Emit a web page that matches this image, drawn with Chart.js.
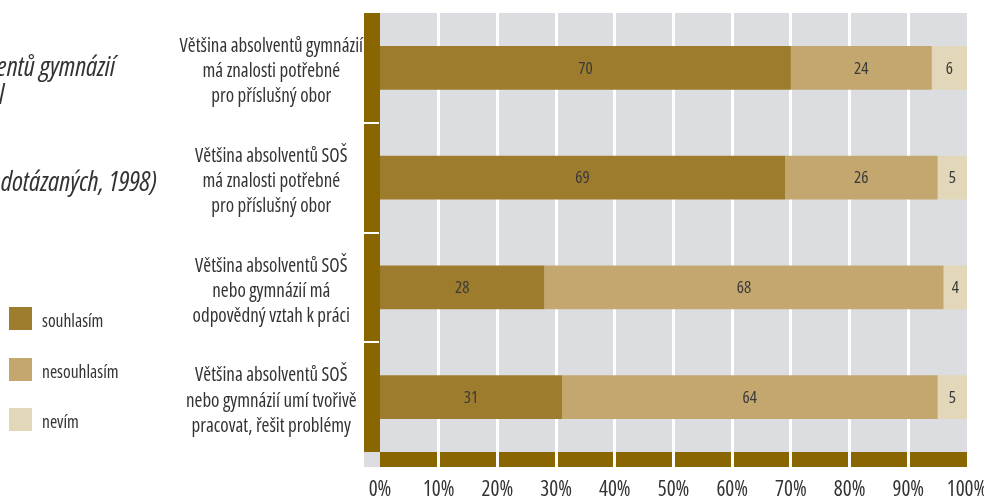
<!DOCTYPE html>
<html lang="cs">
<head>
<meta charset="utf-8">
<script src="https://cdn.jsdelivr.net/npm/chart.js@4/dist/chart.umd.min.js"></script>
<style>
  body { margin: 0; background: #fff; }
  #wrap { position: relative; width: 984px; height: 497px; overflow: hidden; }
  #wrap canvas { position: absolute; left: 0; top: 0; }
  .title { position: absolute; white-space: nowrap; font-family: 'Open Sans', sans-serif; font-stretch: condensed;
    font-style: italic; font-size: 27px; color: #333; line-height: 1; }
  .legend { position: absolute; left: 9px; top: 307px; font-family: 'Open Sans', sans-serif; font-stretch: condensed;
    font-size: 17.5px; color: #333; }
  .legend div { height: 50.5px; position: relative; }
  .legend span.box { position: absolute; left: 0; top: 0; width: 23px; height: 23px; }
  .legend span.txt { position: absolute; left: 33px; top: 2px; line-height: 1.3; }
</style>
</head>
<body>
<div id="wrap">
  <canvas id="myBarChart" width="984" height="497"></canvas>
  <div class="title" style="right:869px; top:52px">Názory na připravenost absolventů gymnázií</div>
  <div class="title" style="right:980px; top:80px">a středních odborných škol</div>
  <div class="title" style="right:827px; top:167px">(v % dotázaných, 1998)</div>
  <div class="legend" id="legend"></div>
</div>
<script>
var categories = [
  ['Většina absolventů gymnázií', 'má znalosti potřebné', 'pro příslušný obor'],
  ['Většina absolventů SOŠ', 'má znalosti potřebné', 'pro příslušný obor'],
  ['Většina absolventů SOŠ', 'nebo gymnázií má', 'odpovědný vztah k práci'],
  ['Většina absolventů SOŠ', 'nebo gymnázií umí tvořivě', 'pracovat, řešit problémy']
]
var seriesNames = ['souhlasím', 'nesouhlasím', 'nevím']
var agree = [70, 69, 28, 31]
var disagree = [24, 26, 68, 64]
var dontKnow = [6, 5, 4, 5]
var xTicks = [0, 10, 20, 30, 40, 50, 60, 70, 80, 90, 100]

var colors = ['#9e7c2e', '#c4a76e', '#e3d7b9']
var axisColor = '#8a6600'
var FONT = "'Open Sans', sans-serif"

// gray panel and dark bottom band under the grid
var panelPlugin = {
  id: 'panel',
  beforeDraw: function (chart) {
    var c = chart.ctx, a = chart.chartArea
    var left = Math.round(a.left), top = Math.round(a.top), bottom = Math.round(a.bottom), right = Math.round(a.right)
    c.save()
    c.fillStyle = '#dcdde0'
    c.fillRect(left, top, right - left, bottom - top)
    c.fillRect(left - 16, bottom, 16, 15)
    c.fillStyle = axisColor
    c.fillRect(left, bottom, right - left, 15)
    c.restore()
  }
}

// dark bar along the category axis, butting against the bars
var axisBarPlugin = {
  id: 'axisBar',
  afterDatasetsDraw: function (chart) {
    var c = chart.ctx, a = chart.chartArea
    var left = Math.round(a.left), top = Math.round(a.top), bottom = Math.round(a.bottom)
    var barStart = left
    chart.getDatasetMeta(0).data.forEach(function (bar) {
      barStart = Math.max(barStart, Math.min(bar.x, bar.base))
    })
    barStart = Math.ceil(barStart)
    c.save()
    c.fillStyle = axisColor
    c.fillRect(left - 16, top, barStart - left + 16, bottom - top)
    // white marks between categories
    var y = chart.scales.y
    c.strokeStyle = '#ffffff'
    c.lineWidth = 2
    for (var i = 0; i < categories.length - 1; i++) {
      var py = Math.round((y.getPixelForValue(i) + y.getPixelForValue(i + 1)) / 2)
      c.beginPath()
      c.moveTo(left - 17, py)
      c.lineTo(left - 1, py)
      c.stroke()
    }
    c.restore()
  }
}

// value written in the middle of each segment
var valuePlugin = {
  id: 'values',
  afterDatasetsDraw: function (chart) {
    var c = chart.ctx
    c.save()
    c.font = 'condensed 17px ' + FONT
    c.fillStyle = '#3a3a3a'
    c.textAlign = 'center'
    c.textBaseline = 'middle'
    chart.data.datasets.forEach(function (ds, di) {
      chart.getDatasetMeta(di).data.forEach(function (bar, i) {
        c.fillText(ds.data[i], (bar.x + bar.base) / 2, bar.y + 1)
      })
    })
    c.restore()
  }
}

function isEdge(c) {
  return c.tick && (c.tick.value === 0 || c.tick.value === 100)
}

var ctx = document.getElementById('myBarChart').getContext('2d')
var myBarChart = new Chart(ctx, {
  type: 'bar',
  data: {
    labels: categories,
    datasets: [
      { label: seriesNames[0], data: agree, backgroundColor: colors[0] },
      { label: seriesNames[1], data: disagree, backgroundColor: colors[1] },
      { label: seriesNames[2], data: dontKnow, backgroundColor: colors[2] }
    ]
  },
  options: {
    indexAxis: 'y',
    responsive: false,
    animation: false,
    layout: { padding: { left: 150, right: 17, top: 13, bottom: 0 } },
    datasets: { bar: { barPercentage: 0.4, categoryPercentage: 1, borderWidth: 0 } },
    plugins: {
      legend: { display: false },
      tooltip: { enabled: false }
    },
    scales: {
      x: {
        stacked: true,
        min: 0,
        max: 100,
        afterBuildTicks: function (scale) {
          scale.ticks = xTicks.map(function (v) { return { value: v } })
        },
        afterFit: function (scale) {
          scale.paddingLeft = 0
          scale.paddingRight = 0
          scale.height = 45
        },
        border: { display: false },
        grid: {
          color: function (c) { return isEdge(c) ? 'rgba(0,0,0,0)' : '#ffffff' },
          lineWidth: function (c) { return isEdge(c) ? 0 : 3 },
          drawTicks: true,
          tickLength: 15
        },
        ticks: {
          padding: 10,
          color: '#333',
          font: { family: FONT, weight: 'condensed', size: 21 },
          callback: function (v) { return v + '%' }
        }
      },
      y: {
        stacked: true,
        afterFit: function (scale) {
          scale.width = 230
          scale.paddingTop = 0
          scale.paddingBottom = 0
        },
        border: { display: false },
        grid: { display: false, drawTicks: false },
        ticks: {
          crossAlign: 'center',
          padding: 17,
          labelOffset: 4,
          color: '#333',
          font: { family: FONT, weight: 'condensed', size: 19, lineHeight: 1.32 }
        }
      }
    }
  },
  plugins: [panelPlugin, axisBarPlugin, valuePlugin]
})

// legend built from the series
var legend = document.getElementById('legend')
seriesNames.forEach(function (name, i) {
  legend.innerHTML += '<div><span class="box" style="background:' + colors[i] + '"></span><span class="txt">' + name + '</span></div>'
})
</script>
</body>
</html>
